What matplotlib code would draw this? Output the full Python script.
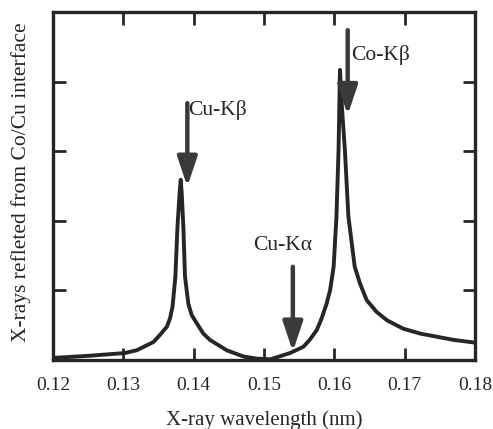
import matplotlib

matplotlib.use("Agg")

import matplotlib.pyplot as plt

# Значения (интенсивность в условных единицах, ось 0..5)
wavelength = [0.1200, 0.1250, 0.1302, 0.1319, 0.1343, 0.1352, 0.1362,
              0.13664, 0.1370, 0.1374, 0.1377, 0.1380, 0.13816, 0.1383,
              0.13853, 0.13877, 0.13924, 0.1397, 0.14043, 0.14137, 0.1423,
              0.1447, 0.1471, 0.1490, 0.1509, 0.1537, 0.1556, 0.1565,
              0.1575, 0.1582, 0.1589, 0.15939, 0.1599, 0.1603, 0.1606,
              0.1608, 0.1611, 0.1615, 0.1620, 0.1629, 0.16365, 0.1646,
              0.16602, 0.1675, 0.1698, 0.1722, 0.1769, 0.1800]
intensity = [0.03, 0.06, 0.10, 0.14, 0.26, 0.36, 0.48,
             0.60, 0.77, 1.20, 1.92, 2.40, 2.59, 2.40,
             1.92, 1.20, 0.81, 0.65, 0.53, 0.38, 0.29,
             0.14, 0.05, 0.02, 0.01, 0.10, 0.19, 0.29,
             0.43, 0.60, 0.81, 1.00, 1.34, 2.06, 3.02,
             4.17, 3.60, 3.02, 2.06, 1.34, 1.10, 0.86,
             0.69, 0.57, 0.45, 0.38, 0.29, 0.25]

x_ticks = [0.12, 0.13, 0.14, 0.15, 0.16, 0.17, 0.18]
y_ticks = [1, 2, 3, 4]

# Подписи линий: текст, x стрелки, начало и конец стрелки, место текста
labels = ["Cu-K\u03b2", "Cu-K\u03b1", "Co-K\u03b2"]
arrow_x = [0.1391, 0.1541, 0.1619]
arrow_top = [3.69, 1.34, 4.74]
arrow_tip = [2.49, 0.12, 3.52]
text_x = [0.1392, 0.1527, 0.1624]
text_y = [3.59, 1.65, 4.38]
text_ha = ["left", "center", "left"]

ink = "#262626"

plt.rcParams["font.family"] = ["Liberation Serif", "DejaVu Serif"]

fig = plt.figure(figsize=(4.93, 4.29), dpi=100)
ax = fig.add_axes([0.1075, 0.1608, 0.856, 0.811])

ax.plot(wavelength, intensity, color=ink, linewidth=2.8,
        solid_joinstyle="round")

for i in range(len(labels)):
    ax.annotate("", xy=(arrow_x[i], arrow_tip[i]),
                xytext=(arrow_x[i], arrow_top[i]),
                arrowprops=dict(arrowstyle="-|>,head_width=0.3,head_length=0.9",
                                mutation_scale=20, lw=3.2, color="#3a3a3a",
                                shrinkA=0, shrinkB=0))
    ax.text(text_x[i], text_y[i], labels[i], ha=text_ha[i], va="center",
            fontsize=15.5, color=ink)

ax.set_xlim(0.12, 0.18)
ax.set_ylim(0, 5)
ax.set_xticks(x_ticks)
ax.set_xticklabels([str(t) for t in x_ticks])
ax.set_yticks(y_ticks)
ax.set_yticklabels([])
ax.tick_params(direction="in", length=9, width=2, top=True, right=True,
               labelsize=14, colors=ink, pad=12)
for spine in ax.spines.values():
    spine.set_linewidth(2.4)
    spine.set_color(ink)

ax.set_xlabel("X-ray wavelength (nm)", fontsize=15, color=ink, labelpad=12)
ax.set_ylabel("X-rays refleted from Co/Cu interface", fontsize=15.5,
              color=ink, va="center")
ax.yaxis.set_label_coords(-0.076, 0.51)

fig.savefig("out.png", dpi=100)
